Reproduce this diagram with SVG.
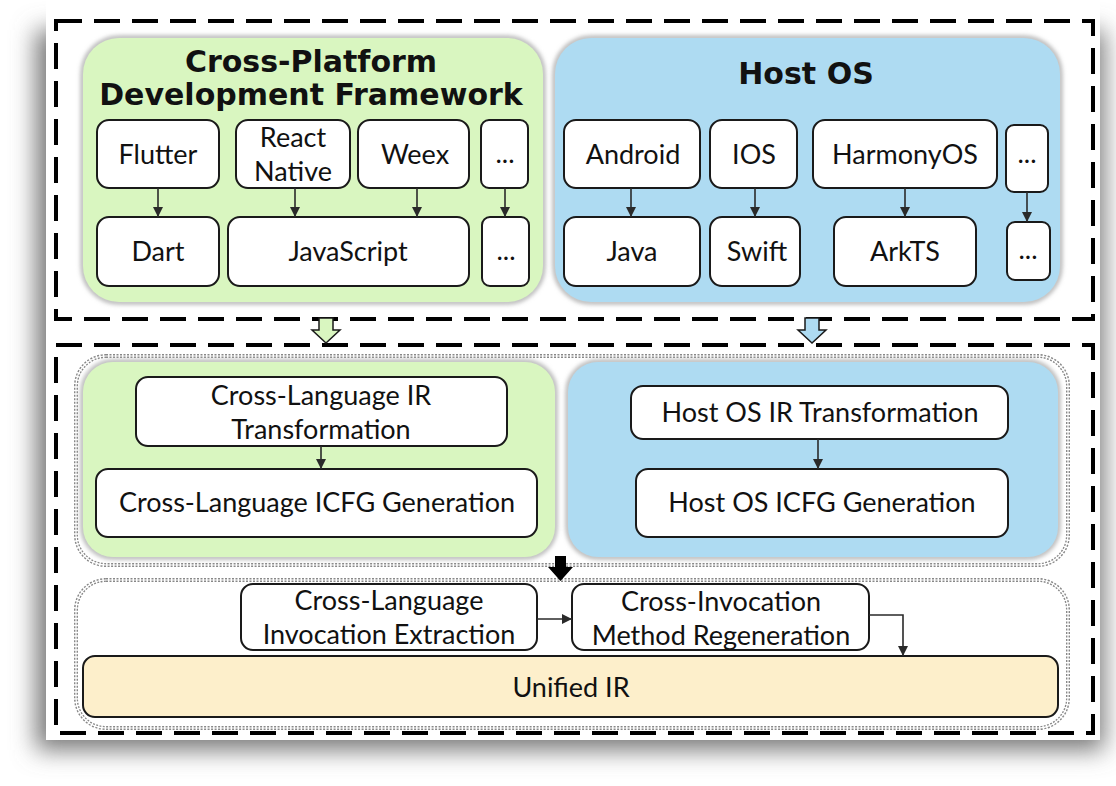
<svg xmlns="http://www.w3.org/2000/svg" width="1116" height="786" viewBox="0 0 1116 786">
<defs>
<filter id="pageShadow" x="-10%" y="-10%" width="120%" height="120%">
<feGaussianBlur stdDeviation="12"/>
</filter>
<filter id="soft" x="-5%" y="-5%" width="110%" height="110%">
<feGaussianBlur stdDeviation="2"/>
</filter>
<marker id="ah" viewBox="0 0 10 10" refX="10" refY="5" markerWidth="10" markerHeight="10" markerUnits="userSpaceOnUse" orient="auto">
<path d="M0,0 L10,5 L0,10 z" fill="#2a2a2a"/>
</marker>
</defs>
<style>
text{font-family:"Lato","Liberation Sans",sans-serif;fill:#111;text-anchor:middle}
.t{font-size:27px}
.title{font-family:"DejaVu Sans","Liberation Sans",sans-serif;font-size:30px;font-weight:bold}
.box{fill:#fff;stroke:#1a1a1a;stroke-width:2}
.dash{fill:none;stroke:#000;stroke-width:4;stroke-dasharray:26 12}
.dotA{fill:none;stroke:#888;stroke-width:4;stroke-dasharray:2 1.5}
.dotB{fill:none;stroke:#fff;stroke-width:1.2}
.con{fill:none;stroke:#2a2a2a;stroke-width:1.6;marker-end:url(#ah)}
.green{fill:#d9f6c0}
.blue{fill:#aedbf2}
.pshadow{fill:none;stroke:#b5b5b5;stroke-width:5;filter:url(#soft)}
</style>
<rect x="0" y="0" width="1116" height="786" fill="#fff"/>
<rect x="36" y="30" width="1068" height="720" fill="#777" filter="url(#pageShadow)"/>
<rect x="46" y="-20" width="1054" height="760" fill="#fff"/>

<g id="frame-top"><rect class="dash" x="56" y="21" width="1037" height="298"/></g>
<g id="frame-bottom"><rect class="dash" x="56" y="345" width="1037" height="388"/></g>

<g id="cross-platform">
<rect class="pshadow" x="83" y="38" width="460" height="264" rx="36"/>
<rect class="green" x="83" y="38" width="460" height="264" rx="36"/>
<text class="title" x="311" y="72">Cross-Platform</text>
<text class="title" x="311" y="105">Development Framework</text>
</g>
<g id="host-os">
<rect class="pshadow" x="555" y="38" width="505" height="264" rx="36"/>
<rect class="blue" x="555" y="38" width="505" height="264" rx="36"/>
<text class="title" x="806" y="84">Host OS</text>
</g>

<g id="flutter"><rect class="box" x="97" y="120" width="122" height="68" rx="12"/><text class="t" x="158" y="164">Flutter</text></g>
<g id="react-native"><rect class="box" x="236" y="120" width="114" height="68" rx="12"/><text class="t" x="293" y="147">React</text><text class="t" x="293" y="181">Native</text></g>
<g id="weex"><rect class="box" x="358" y="120" width="111" height="68" rx="12"/><text class="t" x="415" y="164">Weex</text></g>
<g id="fw-more"><rect class="box" x="481" y="120" width="47" height="68" rx="8"/><text class="t" x="505" y="163">...</text></g>
<g id="dart"><rect class="box" x="97" y="217" width="122" height="69" rx="12"/><text class="t" x="158" y="261">Dart</text></g>
<g id="javascript"><rect class="box" x="228" y="217" width="241" height="69" rx="12"/><text class="t" x="348" y="261">JavaScript</text></g>
<g id="lang-more"><rect class="box" x="482" y="217" width="47" height="69" rx="8"/><text class="t" x="506" y="260">...</text></g>

<g id="android"><rect class="box" x="564" y="120" width="136" height="68" rx="12"/><text class="t" x="633" y="164">Android</text></g>
<g id="ios"><rect class="box" x="710" y="120" width="87" height="68" rx="12"/><text class="t" x="754" y="164">IOS</text></g>
<g id="harmonyos"><rect class="box" x="813" y="120" width="184" height="68" rx="12"/><text class="t" x="905" y="164">HarmonyOS</text></g>
<g id="os-more"><rect class="box" x="1006" y="125" width="42" height="67" rx="8"/><text class="t" x="1027" y="163">...</text></g>
<g id="java"><rect class="box" x="564" y="217" width="136" height="69" rx="12"/><text class="t" x="632" y="261">Java</text></g>
<g id="swift"><rect class="box" x="710" y="217" width="90" height="69" rx="12"/><text class="t" x="757" y="261">Swift</text></g>
<g id="arkts"><rect class="box" x="834" y="217" width="142" height="69" rx="12"/><text class="t" x="905" y="261">ArkTS</text></g>
<g id="oslang-more"><rect class="box" x="1007" y="222" width="43" height="58" rx="8"/><text class="t" x="1028" y="259">...</text></g>

<g id="ir-group">
<rect class="dotA" x="76" y="356" width="992" height="209" rx="30"/>
<rect class="dotB" x="76" y="356" width="992" height="209" rx="30"/>
</g>
<g id="cl-panel">
<rect class="pshadow" x="83" y="362" width="472" height="195" rx="30"/>
<rect class="green" x="83" y="362" width="472" height="195" rx="30"/>
</g>
<g id="os-panel">
<rect class="pshadow" x="568" y="362" width="490" height="195" rx="30"/>
<rect class="blue" x="568" y="362" width="490" height="195" rx="30"/>
</g>
<g id="cl-ir"><rect class="box" x="136" y="377" width="371" height="69" rx="12"/><text class="t" x="321" y="405">Cross-Language IR</text><text class="t" x="321" y="439">Transformation</text></g>
<g id="cl-icfg"><rect class="box" x="96" y="469" width="441" height="68" rx="12"/><text class="t" x="317" y="512">Cross-Language ICFG Generation</text></g>
<g id="os-ir"><rect class="box" x="631" y="386" width="377" height="53" rx="12"/><text class="t" x="820" y="422">Host OS IR Transformation</text></g>
<g id="os-icfg"><rect class="box" x="636" y="469" width="372" height="68" rx="12"/><text class="t" x="822" y="512">Host OS ICFG Generation</text></g>

<g id="unify-group">
<rect class="dotA" x="76" y="580" width="992" height="148" rx="30"/>
<rect class="dotB" x="76" y="580" width="992" height="148" rx="30"/>
</g>
<g id="unified-ir"><rect x="83" y="656" width="975" height="61" rx="12" fill="#fdefcb" stroke="#1a1a1a" stroke-width="2"/><text class="t" x="571" y="697">Unified IR</text></g>
<g id="cl-extract"><rect class="box" x="241" y="584" width="296" height="66" rx="12"/><text class="t" x="389" y="610">Cross-Language</text><text class="t" x="389" y="644">Invocation Extraction</text></g>
<g id="ci-regen"><rect class="box" x="572" y="584" width="297" height="66" rx="12"/><text class="t" x="721" y="611">Cross-Invocation</text><text class="t" x="721" y="645">Method Regeneration</text></g>

<g id="connectors">
<line class="con" x1="158" y1="188" x2="158" y2="217"/>
<line class="con" x1="295" y1="188" x2="295" y2="217"/>
<line class="con" x1="417" y1="188" x2="417" y2="217"/>
<line class="con" x1="505" y1="188" x2="505" y2="217"/>
<line class="con" x1="631" y1="188" x2="631" y2="217"/>
<line class="con" x1="755" y1="188" x2="755" y2="217"/>
<line class="con" x1="905" y1="188" x2="905" y2="217"/>
<line class="con" x1="1027" y1="192" x2="1027" y2="222"/>
<line class="con" x1="321" y1="446" x2="321" y2="469"/>
<line class="con" x1="818" y1="439" x2="818" y2="469"/>
<line class="con" x1="537" y1="619" x2="572" y2="619"/>
<polyline class="con" points="869,615 903,615 903,656"/>
<path d="M319,318 H333 V330 H340 L326,343 L312,330 H319 Z" fill="#d9f6c0" stroke="#1a1a1a" stroke-width="1.5"/>
<path d="M805,318 H819 V330 H826 L812,343 L798,330 H805 Z" fill="#aedbf2" stroke="#1a1a1a" stroke-width="1.5"/>
<path d="M555,556 H566 V567 H573 L560.5,581 L548,567 H555 Z" fill="#000"/>
</g>
</svg>
